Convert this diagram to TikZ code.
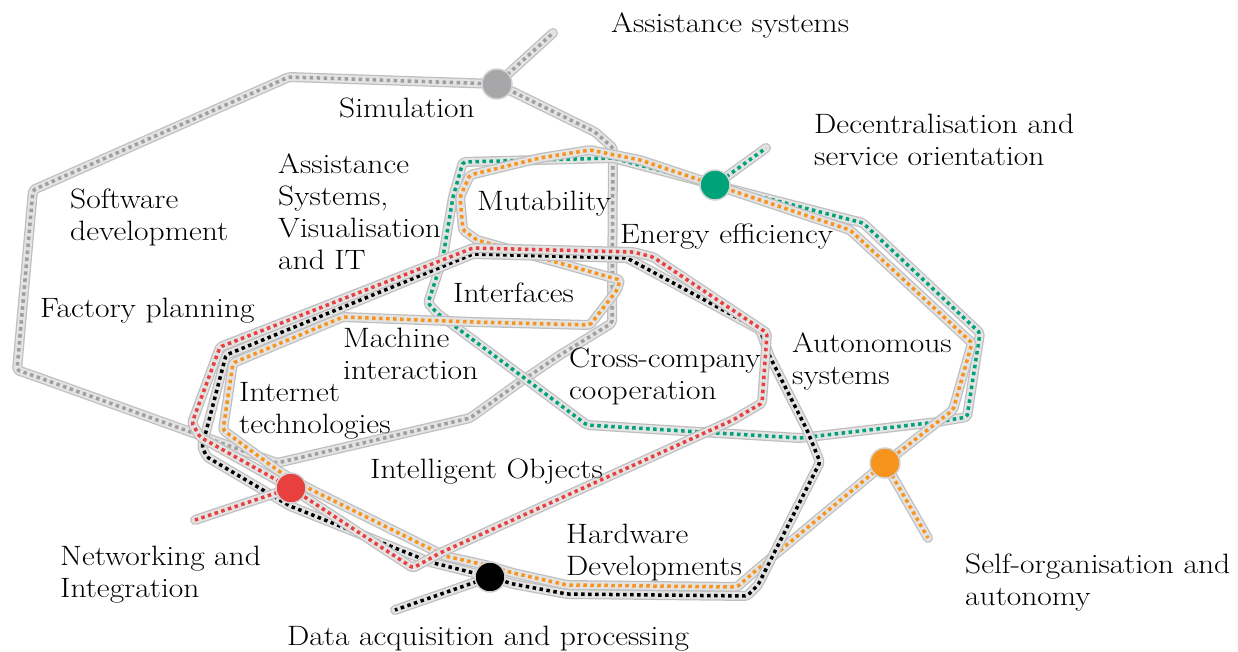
\documentclass[tikz,border=0pt]{standalone}
\usepackage{fontspec}
\setmainfont{Latin Modern Roman}[FakeStretch=1.125]
\definecolor{lgreen}{HTML}{00A27A}
\definecolor{lred}{HTML}{E83F3F}
\definecolor{lorange}{HTML}{F7941E}
\definecolor{lgrey}{HTML}{A7A7A9}
\tikzset{
  halo/.style={line width=10pt, draw=gray!50, line join=round, line cap=round, rounded corners=2pt},
  haloin/.style={line width=7.5pt, draw=gray!22, line join=round, line cap=round, rounded corners=2pt},
  dotline/.style={line width=3.5pt, dash pattern=on 3.5pt off 3.5pt, line join=round, rounded corners=2pt},
  station/.style={circle, minimum size=30pt, inner sep=0pt, draw=gray!35, line width=1.5pt},
  lbl/.style={anchor=north west, inner sep=0pt, align=left, font=\fontsize{28}{32}\selectfont},
}
\newcommand\metroline[2]{\draw[halo] #2; \draw[haloin] #2; \draw[dotline,draw=#1] #2;}
\begin{document}
\begin{tikzpicture}[x=1pt,y=-1pt]
\useasboundingbox (0,0) rectangle (1238,651);
\coordinate (simc) at (497,84);
\coordinate (grc) at (715,185);
\coordinate (rec) at (291,488);
\coordinate (blc) at (490,577);
\coordinate (orc) at (885,463);
% grey line
\metroline{gray!75}{(simc) -- (289,77) -- (33,190) -- (17,370) -- (40,378) -- (277,463) -- (470,418) -- (520,382) -- (560,355) -- (612,323) -- (613,148) -- (595,132) -- cycle (simc) -- (553,33)}
% green line
\metroline{lgreen}{(grc) -- (863,223) -- (980,333) -- (967,417) -- (937,422) -- (800,438) -- (700,432) -- (587,425) -- (523,377) -- (437,313) -- (428,303) -- (443,257) -- (453,197) -- (463,162) -- (613,158) -- cycle (grc) -- (766,148)}
% orange line
\metroline{lorange}{(orc) -- (953,410) -- (972,343) -- (850,230) -- (grc) -- (640,160) -- (590,150) -- (540,158) -- (470,175) -- (460,197) -- (463,230) -- (477,240) -- (620,280) -- (617,290) -- (590,325) -- (473,322) -- (343,317) -- (233,363) -- (223,430) -- (280,472) -- (310,489) -- (445,556) -- (490,566) -- (513,573) -- (567,585) -- (737,587) -- (753,573) -- cycle (orc) -- (928,538)}
% black line
\metroline{black}{(blc) -- (513,584) -- (567,594) -- (747,596) -- (758,585) -- (820,462) -- (807,430) -- (770,357) -- (760,330) -- (627,258) -- (473,254) -- (226,355) -- (202,447) -- (207,457) -- (290,506) -- (430,562) -- cycle (blc) -- (395,610)}
% red line
\metroline{lred}{(rec) -- (413,568) -- (440,553) -- (733,420) -- (762,403) -- (767,333) -- (653,257) -- (633,252) -- (473,248) -- (220,347) -- (192,423) -- (200,437) -- cycle (rec) -- (195,520)}
% stations
\node[station, fill=lgrey] (sim) at (simc) {};
\node[station, fill=lgreen] (dec) at (grc) {};
\node[station, fill=lred] (net) at (rec) {};
\node[station, fill=black] (dat) at (blc) {};
\node[station, fill=lorange] (sel) at (orc) {};
% labels
\node[lbl] (t1) at (611,12.5) {Assistance systems};
\node[lbl] (t2) at (339,97.5) {Simulation};
\node[lbl] (t3) at (814,113.5) {Decentralisation and\\service orientation};
\node[lbl] (t4) at (70,188.5) {Software\\development};
\node[lbl] (t5) at (40,297.5) {Factory planning};
\node[lbl] (t6) at (278,153.5) {Assistance\\Systems,\\Visualisation\\and IT};
\node[lbl] (t7) at (477,190.5) {Mutability};
\node[lbl] (t8) at (620,223.5) {Energy efficiency};
\node[lbl] (t9) at (453,282.5) {Interfaces};
\node[lbl] (t10) at (569,347.5) {Cross-company\\cooperation};
\node[lbl] (t11) at (343,327.5) {Machine\\interaction};
\node[lbl] (t12) at (239,382.5) {Internet\\technologies};
\node[lbl] (t13) at (370,458.5) {Intelligent Objects};
\node[lbl] (t14) at (792,332.5) {Autonomous\\systems};
\node[lbl] (t15) at (566,523.5) {Hardware\\Developments};
\node[lbl] (t16) at (60,545.5) {Networking and\\Integration};
\node[lbl] (t17) at (965,553.5) {Self-organisation and\\autonomy};
\node[lbl] (t18) at (287,625.5) {Data acquisition and processing};
\end{tikzpicture}
\end{document}
